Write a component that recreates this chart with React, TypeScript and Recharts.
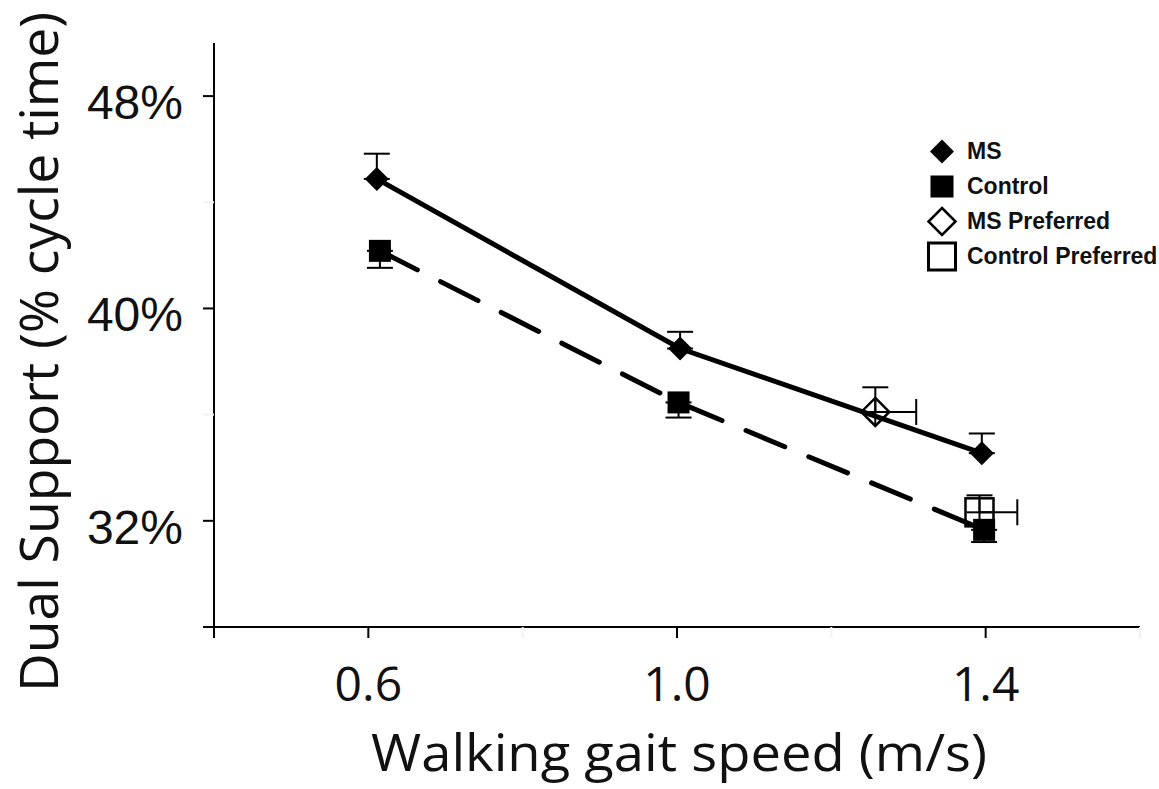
import React from 'react';
import { ComposedChart, Line, Scatter, XAxis, YAxis, ErrorBar, Legend, Label } from 'recharts';

// ---- data ----
const msSpeed = [0.611, 1.004, 1.395];
const msSupport = [44.88, 38.49, 34.55];
const msErrUp = [0.95, 0.63, 0.74];

const controlSpeed = [0.615, 1.002, 1.398];
const controlSupport = [42.17, 36.46, 31.66];
const controlErrDown = [0.64, 0.57, 0.46];

const msPrefSpeed = [1.257];
const msPrefSupport = [36.1];
const msPrefErrUp = [0.93];
const msPrefSpeedErr = [0.053];

const controlPrefSpeed = [1.392];
const controlPrefSupport = [32.32];
const controlPrefErrUp = [0.64];
const controlPrefSpeedErr = [0.049];

const xTicks = [0.4, 0.6, 0.8, 1.0, 1.2, 1.4, 1.6];
const xTickLabels = ['', '0.6', '', '1.0', '', '1.4', ''];
const xMinorTicks = [0.8, 1.2, 1.6];
const yTicks = [28, 32, 36, 40, 44, 48];
const yTickLabels = ['', '32%', '', '40%', '', '48%'];
const yMinorTicks = [36, 44];
const legendLabels = ['MS', 'Control', 'MS Preferred', 'Control Preferred'];
const xTitle = 'Walking gait speed (m/s)';
const yTitle = 'Dual Support (% cycle time)';

// ---- rows built for the library ----
const msRows = msSpeed.map((s, i) => ({ speed: s, support: msSupport[i], err: [0, msErrUp[i]] }));
const controlRows = controlSpeed.map((s, i) => ({ speed: s, support: controlSupport[i], err: [controlErrDown[i], 0] }));
const msPrefRows = msPrefSpeed.map((s, i) => ({
  speed: s,
  support: msPrefSupport[i],
  yErr: [0, msPrefErrUp[i]],
  xErr: [0, msPrefSpeedErr[i]],
}));
const controlPrefRows = controlPrefSpeed.map((s, i) => ({
  speed: s,
  support: controlPrefSupport[i],
  yErr: [0, controlPrefErrUp[i]],
  xErr: [0, controlPrefSpeedErr[i]],
}));

const diamondPath = (cx: number, cy: number, r: number) =>
  `M${cx},${cy - r}L${cx + r},${cy}L${cx},${cy + r}L${cx - r},${cy}Z`;

const MsDot = (props: any) => {
  const { cx, cy, index } = props;
  if (cx == null || cy == null) return <g key={`msd-${index}`} />;
  return <path key={`msd-${index}`} d={diamondPath(cx, cy, 12)} fill="#000" stroke="none" />;
};

const ControlDot = (props: any) => {
  const { cx, cy, index } = props;
  if (cx == null || cy == null) return <g key={`ctd-${index}`} />;
  return <rect key={`ctd-${index}`} x={cx - 11} y={cy - 11} width={22} height={22} fill="#000" />;
};

const OpenDiamond = (props: any) => {
  const { cx, cy } = props;
  return <path d={diamondPath(cx, cy, 14)} fill="none" stroke="#000" strokeWidth={2.5} />;
};

const OpenSquare = (props: any) => {
  const { cx, cy } = props;
  return <rect x={cx - 14} y={cy - 14} width={28} height={28} fill="none" stroke="#000" strokeWidth={2.5} />;
};

const XTick = (props: any) => {
  const { x, y, payload } = props;
  const v = payload.value;
  const idx = xTicks.indexOf(v);
  const minor = xMinorTicks.indexOf(v) >= 0;
  return (
    <g>
      <line x1={x} x2={x} y1={y} y2={y + 11} stroke={minor ? '#f2f2f2' : '#000'} strokeWidth={2} />
      {idx >= 0 && xTickLabels[idx] ? (
        <text x={x} y={y + 74} textAnchor="middle" fontFamily="'Open Sans', sans-serif" fontSize={48} fill="#111">
          {xTickLabels[idx]}
        </text>
      ) : null}
    </g>
  );
};

const YTick = (props: any) => {
  const { x, y, payload } = props;
  const v = payload.value;
  const idx = yTicks.indexOf(v);
  const minor = yMinorTicks.indexOf(v) >= 0;
  return (
    <g>
      <line x1={x - 11} x2={x} y1={y} y2={y} stroke={minor ? '#f2f2f2' : '#000'} strokeWidth={2} />
      {idx >= 0 && yTickLabels[idx] ? (
        <text x={x - 31} y={y + 23} textAnchor="end" fontFamily="'Liberation Sans', Arial, sans-serif" fontSize={48} fill="#111">
          {yTickLabels[idx]}
        </text>
      ) : null}
    </g>
  );
};

const XTitle = (props: any) => {
  const vb = props.viewBox || { x: 0, y: 0, width: 0, height: 0 };
  return (
    <text
      x={vb.x + vb.width / 2 + 2}
      y={vb.y + 144}
      textAnchor="middle"
      fontFamily="'Open Sans', sans-serif"
      fontSize={52}
      fill="#111"
      textLength={616}
      lengthAdjust="spacingAndGlyphs"
    >
      {xTitle}
    </text>
  );
};

const YTitle = (props: any) => {
  const vb = props.viewBox || { x: 0, y: 0, width: 0, height: 0 };
  const cx = vb.x + 58;
  const cy = vb.y + vb.height / 2 + 17;
  return (
    <text
      x={cx}
      y={cy}
      transform={`rotate(-90 ${cx} ${cy})`}
      textAnchor="middle"
      fontFamily="'Open Sans', sans-serif"
      fontSize={53}
      fill="#111"
      textLength={680}
      lengthAdjust="spacingAndGlyphs"
    >
      {yTitle}
    </text>
  );
};

const LegendIcon = ({ i }: { i: number }) => {
  const cx = 15;
  const cy = 17.5;
  let shape: React.ReactNode = null;
  if (i === 0) shape = <path d={diamondPath(cx, cy, 12)} fill="#000" />;
  if (i === 1) shape = <rect x={cx - 11.5} y={cy - 11} width={23} height={22} fill="#000" />;
  if (i === 2) shape = <path d={diamondPath(cx, cy, 13.5)} fill="#fff" stroke="#000" strokeWidth={2.5} />;
  if (i === 3) shape = <rect x={cx - 13.5} y={cy - 13.5} width={27} height={27} fill="#fff" stroke="#000" strokeWidth={3} />;
  return (
    <svg width={30} height={35} style={{ display: 'block', overflow: 'visible' }}>
      {shape}
    </svg>
  );
};

const LegendContent = () => (
  <div style={{ display: 'flex', flexDirection: 'column' }}>
    {legendLabels.map((label, i) => (
      <div key={label} style={{ display: 'flex', alignItems: 'center', height: 35 }}>
        <LegendIcon i={i} />
        <span
          style={{
            marginLeft: 10,
            fontFamily: "'Liberation Sans', Arial, sans-serif",
            fontWeight: 'bold',
            fontSize: 23,
            lineHeight: '35px',
            color: '#111',
            whiteSpace: 'nowrap',
          }}
        >
          {label}
        </span>
      </div>
    ))}
  </div>
);

export default function App() {
  return (
    <div style={{ position: 'absolute', left: 0, top: 0, width: 1159, height: 789, background: '#fff' }}>
      <ComposedChart width={1159} height={789} margin={{ top: 43, right: 19, bottom: 0, left: 0 }}>
        <XAxis
          type="number"
          dataKey="speed"
          domain={[0.4, 1.6]}
          ticks={xTicks}
          allowDataOverflow
          height={162}
          axisLine={{ stroke: '#000', strokeWidth: 2 }}
          tickLine={false}
          tickSize={0}
          tickMargin={0}
          tick={<XTick />}
          interval={0}
        >
          <Label content={<XTitle />} />
        </XAxis>
        <YAxis
          type="number"
          dataKey="support"
          domain={[28, 50]}
          ticks={yTicks}
          allowDataOverflow
          width={214}
          axisLine={{ stroke: '#000', strokeWidth: 2 }}
          tickLine={false}
          tickSize={0}
          tickMargin={0}
          tick={<YTick />}
          interval={0}
        >
          <Label content={<YTitle />} />
        </YAxis>
        <Scatter data={controlPrefRows} dataKey="support" shape={<OpenSquare />} isAnimationActive={false}>
          <ErrorBar dataKey="yErr" direction="y" width={13} stroke="#000" strokeWidth={2} />
          <ErrorBar dataKey="xErr" direction="x" width={13} stroke="#000" strokeWidth={2} />
        </Scatter>
        <Line
          data={controlRows}
          dataKey="support"
          stroke="#000"
          strokeWidth={5}
          strokeDasharray="42 26"
          strokeLinecap="round"
          dot={ControlDot}
          activeDot={false}
          isAnimationActive={false}
          type="linear"
        >
          <ErrorBar dataKey="err" direction="y" width={13} stroke="#000" strokeWidth={2} />
        </Line>
        <Line
          data={msRows}
          dataKey="support"
          stroke="#000"
          strokeWidth={5}
          dot={MsDot}
          activeDot={false}
          isAnimationActive={false}
          type="linear"
        >
          <ErrorBar dataKey="err" direction="y" width={13} stroke="#000" strokeWidth={2} />
        </Line>
        <Scatter data={msPrefRows} dataKey="support" shape={<OpenDiamond />} isAnimationActive={false}>
          <ErrorBar dataKey="yErr" direction="y" width={13} stroke="#000" strokeWidth={2} />
          <ErrorBar dataKey="xErr" direction="x" width={13} stroke="#000" strokeWidth={2} />
        </Scatter>
        <Legend
          layout="vertical"
          align="center"
          verticalAlign="middle"
          wrapperStyle={{ left: 927, top: 134, width: 232, height: 140 }}
          content={<LegendContent />}
        />
      </ComposedChart>
    </div>
  );
}
